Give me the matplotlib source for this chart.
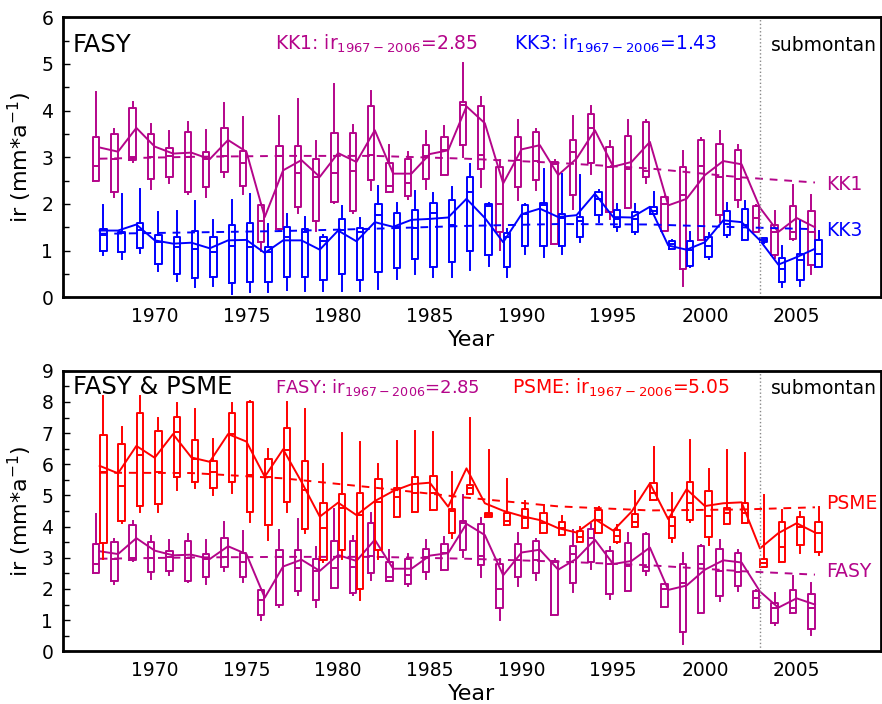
import matplotlib
matplotlib.use('Agg')
import matplotlib.pyplot as plt
from matplotlib.ticker import MultipleLocator
import numpy as np

years = np.arange(1967, 2007)

# KK1 / FASY (same beech data in both panels)
kk1_lo = [2.50, 2.15, 2.90, 2.33, 2.45, 2.22, 2.16, 2.58, 2.22, 1.00,
          1.43, 1.81, 1.42, 2.03, 1.81, 2.29, 2.26, 2.11, 2.33, 2.62,
          3.01, 2.37, 1.02, 2.09, 2.29, 1.15, 1.90, 2.65, 1.68, 1.92,
          2.44, 1.43, 0.25, 1.22, 1.61, 1.94, 1.40, 0.84, 1.22, 0.51]
kk1_q1 = [2.50, 2.26, 2.94, 2.53, 2.58, 2.26, 2.37, 2.69, 2.38, 1.18,
          1.47, 1.94, 1.63, 2.04, 1.86, 2.51, 2.26, 2.17, 2.54, 2.62,
          3.26, 2.76, 1.40, 2.37, 2.51, 1.15, 2.19, 2.87, 1.83, 1.92,
          2.58, 1.43, 0.61, 1.22, 1.76, 2.08, 1.40, 0.90, 1.24, 0.70]
kk1_med = [2.81, 2.97, 3.00, 3.00, 3.03, 3.00, 2.96, 3.03, 2.87, 1.63,
           3.03, 2.67, 2.58, 2.66, 2.70, 3.05, 2.39, 2.45, 3.03, 3.15,
           4.12, 3.05, 2.00, 2.94, 2.92, 2.85, 3.12, 3.62, 2.80, 2.74,
           2.71, 2.00, 2.19, 2.81, 2.58, 2.54, 1.70, 1.40, 1.40, 1.40]
kk1_q3 = [3.43, 3.51, 4.05, 3.50, 3.21, 3.55, 3.12, 3.62, 3.14, 1.97,
          3.24, 3.24, 2.97, 3.53, 3.53, 4.11, 2.88, 2.96, 3.27, 3.44,
          4.19, 4.10, 2.80, 3.43, 3.55, 2.90, 3.37, 3.93, 3.23, 3.46,
          3.76, 2.15, 2.80, 3.37, 3.28, 3.15, 1.95, 1.56, 1.96, 1.85]
kk1_hi = [4.39, 3.60, 4.18, 3.71, 3.56, 3.76, 3.58, 4.16, 3.86, 2.00,
          3.89, 4.24, 3.35, 4.57, 3.69, 4.43, 3.26, 3.12, 3.57, 3.68,
          5.02, 4.29, 2.95, 3.80, 3.60, 2.95, 3.89, 4.10, 3.35, 3.81,
          3.81, 2.17, 3.14, 3.41, 3.57, 3.26, 1.97, 1.86, 2.41, 2.20]
kk1_mean = [3.21, 3.12, 3.63, 3.23, 3.08, 3.10, 2.96, 3.37, 3.12, 1.72,
            2.72, 2.94, 2.58, 3.09, 2.90, 3.58, 2.65, 2.65, 3.07, 3.15,
            4.09, 3.73, 2.44, 3.17, 3.26, 2.62, 2.97, 3.58, 2.80, 2.90,
            3.33, 1.97, 2.11, 2.62, 2.92, 2.85, 1.92, 1.40, 1.70, 1.50]

# KK3
kk3_lo = [0.90, 0.82, 0.95, 0.57, 0.36, 0.22, 0.25, 0.07, 0.11, 0.11,
          0.16, 0.14, 0.14, 0.14, 0.13, 0.18, 0.39, 0.50, 0.43, 0.43,
          0.59, 0.68, 0.43, 0.93, 0.86, 0.93, 1.18, 1.61, 1.43, 1.36,
          1.79, 1.04, 0.65, 0.82, 1.29, 1.22, 1.17, 0.23, 0.25, 0.66]
kk3_q1 = [1.00, 0.97, 1.06, 0.72, 0.50, 0.41, 0.43, 0.30, 0.32, 0.32,
          0.43, 0.43, 0.37, 0.50, 0.37, 0.54, 0.63, 0.82, 0.66, 0.75,
          1.00, 0.90, 0.65, 1.11, 1.11, 1.11, 1.29, 1.76, 1.51, 1.40,
          1.79, 1.04, 0.68, 0.87, 1.33, 1.22, 1.18, 0.32, 0.37, 0.66]
kk3_med = [1.33, 1.38, 1.45, 1.18, 1.08, 1.04, 0.97, 1.11, 1.08, 0.98,
           1.29, 1.40, 1.20, 1.45, 1.40, 1.76, 1.50, 1.49, 1.81, 1.54,
           2.26, 1.95, 1.30, 1.78, 1.97, 1.71, 1.63, 2.11, 1.68, 1.68,
           1.86, 1.15, 1.02, 1.10, 1.58, 1.55, 1.23, 0.61, 0.80, 0.93]
kk3_q3 = [1.47, 1.40, 1.60, 1.33, 1.29, 1.43, 1.30, 1.56, 1.59, 1.08,
          1.51, 1.47, 1.30, 1.68, 1.49, 2.01, 1.81, 1.88, 2.02, 2.08,
          2.58, 2.01, 1.38, 1.97, 2.02, 1.79, 1.72, 2.26, 1.88, 1.83,
          1.94, 1.20, 1.20, 1.29, 1.84, 1.90, 1.27, 0.84, 0.93, 1.22]
kk3_hi = [1.97, 2.22, 2.33, 1.83, 1.85, 2.06, 1.65, 2.08, 2.22, 1.58,
          1.79, 1.73, 1.33, 1.95, 1.71, 2.38, 2.02, 2.28, 2.24, 2.37,
          2.85, 2.02, 1.47, 2.01, 2.74, 2.65, 2.63, 2.30, 2.01, 2.01,
          2.26, 1.22, 1.40, 1.38, 2.02, 2.06, 1.28, 1.11, 1.63, 1.42]
kk3_mean = [1.43, 1.43, 1.56, 1.22, 1.15, 1.17, 1.05, 1.22, 1.23, 0.95,
            1.22, 1.22, 1.02, 1.43, 1.20, 1.61, 1.51, 1.66, 1.68, 1.71,
            2.11, 1.70, 1.18, 1.78, 1.90, 1.72, 1.76, 2.22, 1.72, 1.71,
            1.94, 1.11, 1.02, 1.18, 1.65, 1.61, 1.22, 0.70, 0.86, 1.04]

# PSME
psme_lo = [2.95, 4.13, 4.48, 4.48, 5.18, 5.23, 5.02, 5.09, 4.16, 3.57,
           4.48, 3.79, 2.88, 2.95, 1.65, 2.95, 4.32, 4.48, 4.53, 3.63,
           5.05, 4.30, 4.05, 3.95, 3.81, 3.73, 3.52, 3.79, 3.47, 4.00,
           4.86, 3.52, 4.16, 3.41, 4.09, 4.13, 2.70, 2.88, 3.14, 3.09]
psme_q1 = [3.47, 4.19, 4.66, 4.72, 5.60, 5.44, 5.23, 5.44, 4.48, 4.05,
           4.80, 3.91, 2.93, 3.25, 2.00, 3.25, 4.32, 4.48, 4.53, 3.81,
           5.05, 4.30, 4.05, 3.95, 3.81, 3.73, 3.52, 3.79, 3.52, 4.00,
           4.86, 3.63, 4.21, 3.68, 4.09, 4.13, 2.70, 2.88, 3.41, 3.20]
psme_med = [5.76, 5.30, 6.30, 5.74, 7.05, 6.17, 5.75, 6.97, 5.66, 5.60,
            6.46, 5.16, 3.97, 4.60, 4.37, 4.80, 4.96, 5.07, 5.07, 4.50,
            5.23, 4.37, 4.19, 4.27, 4.13, 3.95, 3.68, 4.20, 3.70, 4.15,
            5.07, 4.02, 4.77, 4.34, 4.43, 4.45, 2.82, 3.36, 4.00, 3.81]
psme_q3 = [6.94, 6.65, 7.64, 7.08, 7.53, 6.78, 6.12, 7.66, 8.01, 6.16,
           7.18, 6.12, 4.75, 5.05, 5.09, 5.52, 5.23, 5.58, 5.63, 4.56,
           5.34, 4.43, 4.45, 4.56, 4.45, 4.16, 3.87, 4.53, 3.89, 4.41,
           5.39, 4.30, 5.44, 5.15, 4.59, 4.75, 2.95, 4.14, 4.32, 4.14]
psme_hi = [8.19, 7.19, 8.19, 7.50, 7.96, 7.76, 6.80, 7.98, 8.04, 6.48,
           8.01, 7.76, 6.01, 6.99, 6.73, 6.01, 6.75, 7.08, 7.05, 5.76,
           7.48, 6.46, 5.52, 4.83, 4.70, 4.34, 4.00, 4.64, 4.05, 5.15,
           6.55, 5.09, 6.78, 5.84, 6.46, 6.35, 5.02, 4.53, 4.48, 4.64]
psme_mean = [5.95, 5.71, 6.59, 6.21, 6.97, 6.22, 6.08, 6.97, 6.73, 5.60,
             6.48, 5.44, 4.32, 4.77, 4.37, 4.82, 5.14, 5.36, 5.41, 4.64,
             5.87, 4.75, 4.51, 4.34, 4.21, 3.95, 3.81, 4.24, 3.87, 4.48,
             5.39, 4.24, 5.20, 4.66, 4.75, 4.78, 3.30, 3.79, 4.11, 3.81]

# dashed trend curves, read at a few years
trend_years = [1967, 1972, 1977, 1982, 1987, 1992, 1997, 2002, 2006]
kk1_trend = [2.97, 3.01, 3.03, 3.03, 2.97, 2.88, 2.76, 2.57, 2.46]
kk3_trend = [1.36, 1.39, 1.42, 1.47, 1.53, 1.57, 1.56, 1.50, 1.46]
psme_trend = [5.73, 5.72, 5.55, 5.25, 4.93, 4.65, 4.52, 4.55, 4.62]

MAG = '#b4058a'
BLUE = '#0000ff'
RED = '#ff0000'
LW = 1.4

plt.rcParams['font.family'] = ['DejaVu Sans']

fig = plt.figure(figsize=(8.82, 7.04), dpi=100)
W, H = 882, 704


def axes_px(l, t, r, b):
    return fig.add_axes([l / W, 1 - b / H, (r - l) / W, (b - t) / H])


def draw_series(ax, offset, lo, q1, med, q3, hi, mean, trend, color):
    stats = [dict(whislo=a, q1=b, med=c, q3=d, whishi=e)
             for a, b, c, d, e in zip(lo, q1, med, q3, hi)]
    props = dict(color=color, lw=LW)
    ax.bxp(stats, positions=years + offset, widths=0.35, showfliers=False,
           showcaps=False, boxprops=props, whiskerprops=props,
           medianprops=props, manage_ticks=False)
    ax.plot(years, mean, color=color, lw=LW)
    ax.plot(trend_years, trend, color=color, lw=LW, ls=(0, (4, 3.5)))


def style_axes(ax, ymax):
    ax.set_xlim(1965, 2009.6)
    ax.set_ylim(0, ymax)
    ax.set_xticks(range(1970, 2010, 5))
    ax.yaxis.set_major_locator(MultipleLocator(1))
    ax.yaxis.set_minor_locator(MultipleLocator(0.5))
    ax.tick_params(axis='x', length=0, pad=7, labelsize=13.5)
    ax.tick_params(axis='y', which='both', direction='in', labelsize=13.5, pad=7)
    ax.tick_params(axis='y', which='major', length=5, width=1)
    ax.tick_params(axis='y', which='minor', length=4, width=1)
    for s in ax.spines.values():
        s.set_linewidth(2)
    ax.axvline(2003, color='#888888', ls=':', lw=1)
    ax.set_xlabel('Year', fontsize=16)
    ax.xaxis.set_label_coords(0.5, -0.115)
    ax.set_ylabel(r'ir (mm*a$^{-1}$)', fontsize=16)
    ax.yaxis.set_label_coords(-0.036, 0.5)


sub = r'ir$_{\mathregular{1967-2006}}$'

# top panel: FASY, KK1 vs KK3
ax1 = axes_px(63, 17.3, 881, 297.3)
draw_series(ax1, -0.2, kk1_lo, kk1_q1, kk1_med, kk1_q3, kk1_hi, kk1_mean, kk1_trend, MAG)
draw_series(ax1, 0.2, kk3_lo, kk3_q1, kk3_med, kk3_q3, kk3_hi, kk3_mean, kk3_trend, BLUE)
style_axes(ax1, 6)
ax1.text(1965.55, 5.26, 'FASY', fontsize=17.5)
ax1.text(1976.55, 5.30, 'KK1: ' + sub + '=2.85', color=MAG, fontsize=13.5)
ax1.text(1989.6, 5.30, 'KK3: ' + sub + '=1.43', color=BLUE, fontsize=13.5)
ax1.text(2003.6, 5.28, 'submontan', fontsize=13.5)
ax1.text(2006.6, 2.42, 'KK1', color=MAG, fontsize=13.5, va='center')
ax1.text(2006.6, 1.43, 'KK3', color=BLUE, fontsize=13.5, va='center')

# bottom panel: FASY vs PSME
ax2 = axes_px(63, 370.8, 881, 651.3)
draw_series(ax2, -0.2, kk1_lo, kk1_q1, kk1_med, kk1_q3, kk1_hi, kk1_mean, kk1_trend, MAG)
draw_series(ax2, 0.2, psme_lo, psme_q1, psme_med, psme_q3, psme_hi, psme_mean, psme_trend, RED)
style_axes(ax2, 9)
ax2.text(1965.55, 8.25, 'FASY & PSME', fontsize=17.5)
ax2.text(1976.55, 8.28, 'FASY: ' + sub + '=2.85', color=MAG, fontsize=13)
ax2.text(1989.5, 8.28, 'PSME: ' + sub + '=5.05', color=RED, fontsize=13.5)
ax2.text(2003.6, 8.25, 'submontan', fontsize=13.5)
ax2.text(2006.6, 4.73, 'PSME', color=RED, fontsize=13.5, va='center')
ax2.text(2006.6, 2.55, 'FASY', color=MAG, fontsize=13.5, va='center')

fig.savefig('out.png', dpi=100)
